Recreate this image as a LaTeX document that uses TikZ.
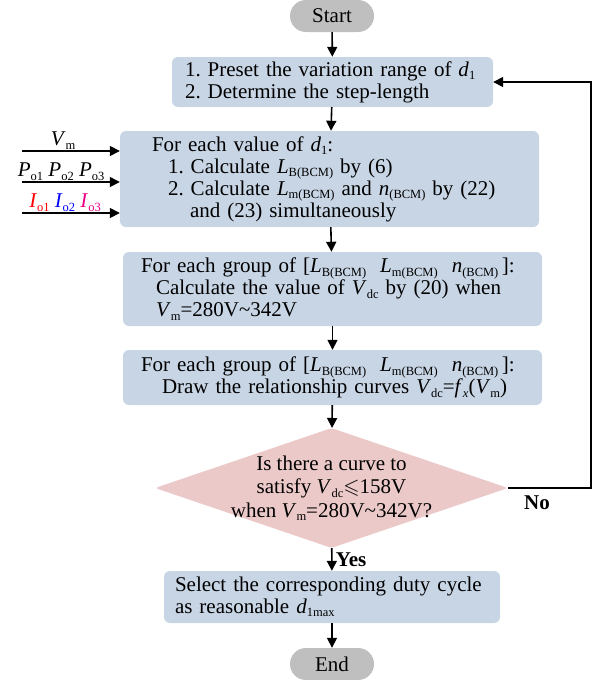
\documentclass[tikz,border=0pt]{standalone}
\usepackage{amssymb}
\usepackage{fontspec}
\setmainfont{Liberation Serif}
\usetikzlibrary{arrows.meta,shapes.geometric}
\definecolor{boxblue}{RGB}{200,213,229}
\definecolor{decpink}{RGB}{236,201,201}
\definecolor{termgray}{RGB}{191,191,191}
\newcommand{\lowsub}[1]{\raisebox{-3.5pt}{\fontsize{12.5}{12.5}\selectfont #1}}
\newcommand{\vsub}[2]{\textit{#1}\lowsub{#2}}
\frenchspacing
\begin{document}
\begin{tikzpicture}[x=1pt,y=-1pt,>={Triangle[length=10pt,width=10pt]},
  every node/.style={font=\fontsize{21}{22}\selectfont},
  box/.style={fill=boxblue,rounded corners=6pt,align=left,inner ysep=0pt},
  term/.style={fill=termgray,rounded corners=16pt,minimum width=84pt,minimum height=32pt,inner sep=0pt},
  decision/.style={diamond,fill=decpink,rounded corners=3pt,minimum width=353pt,minimum height=120pt,inner sep=0pt},
  flow/.style={->,line width=1.6pt}]
\useasboundingbox (0,0) rectangle (600,680);

\node[term] (start) at (332,16) {Start};

\node[box,text width=295pt,inner xsep=13pt,minimum height=50pt] (preset) at (332.5,82)
  {1. Preset the variation range of \vsub{d}{1}\\
   2. Determine the step-length};

\node[box,text width=391pt,inner xsep=14pt,minimum height=96pt] (each) at (329.5,179)
  {\hspace*{18pt}For each value of \vsub{d}{1}:\\
   \hspace*{34pt}1. Calculate \vsub{L}{B(BCM)} by (6)\\
   \hspace*{34pt}2. Calculate \vsub{L}{m(BCM)} and \vsub{n}{(BCM)} by (22)\\
   \hspace*{56pt}and (23) simultaneously};

\node[box,text width=395pt,inner xsep=12pt,minimum height=74pt] (calc) at (332.5,289)
  {\hspace*{6pt}For each group of [\vsub{L}{B(BCM)}\ \ \vsub{L}{m(BCM)}\ \ \vsub{n}{(BCM)}\,]:\\
   \hspace*{21pt}Calculate the value of \vsub{V}{dc} by (20) when\\
   \hspace*{21pt}\vsub{V}{m}=280V\textasciitilde342V};

\node[box,text width=395pt,inner xsep=12pt,minimum height=55pt] (curves) at (332.5,377.5)
  {\hspace*{6pt}For each group of [\vsub{L}{B(BCM)}\ \ \vsub{L}{m(BCM)}\ \ \vsub{n}{(BCM)}\,]:\\
   \hspace*{27pt}Draw the relationship curves \vsub{V}{dc}=\textit{f}\lowsub{\textit{x}}(\vsub{V}{m})};

\node[decision] (check) at (331.5,488) {};
\node[align=center,font=\fontsize{21}{23.5}\selectfont] (checktext) at (check.center)
  {Is there a curve to\\
   satisfy \vsub{V}{dc}$\leqslant$158V\\
   when \vsub{V}{m}=280V\textasciitilde342V?};

\node[box,text width=314pt,inner xsep=11pt,minimum height=52pt] (select) at (332,597)
  {Select the corresponding duty cycle\\
   as reasonable \vsub{d}{1max}};

\node[term] (finish) at (332,664) {End};

% main flow
\draw[flow] (start) -- (preset);
\draw[flow] (preset) -- (each);
\draw[flow] (each) -- (calc);
\draw[flow] (calc) -- (curves);
\draw[flow] (curves) -- (check);
\draw[flow] (check) -- node[right,font=\fontsize{21}{22}\selectfont\bfseries] (yes) {Yes} (select);
\draw[flow] (select) -- (finish);

% loop back
\coordinate (loop) at (591,488);
\draw[flow] (check.east) -- (loop) |- (preset.east);
\node[font=\fontsize{21}{22}\selectfont\bfseries] (no) at (537,503) {No};

% inputs
\coordinate (vin) at (22,151);
\coordinate (pin) at (22,182);
\coordinate (iin) at (22,213);
\draw[flow] (vin) -- node[pos=0.42,above,inner sep=1pt] (vlab) {\vsub{V}{m}} (vin -| each.west);
\draw[flow] (pin) -- node[pos=0.40,above,inner sep=1pt] (plab) {\vsub{P}{o1} \vsub{P}{o2} \vsub{P}{o3}} (pin -| each.west);
\draw[flow] (iin) -- node[pos=0.44,above,inner sep=1pt] (ilab)
  {\textcolor{red}{\vsub{I}{o1}} \textcolor{blue}{\vsub{I}{o2}} \textcolor{magenta}{\vsub{I}{o3}}} (iin -| each.west);
\end{tikzpicture}
\end{document}
